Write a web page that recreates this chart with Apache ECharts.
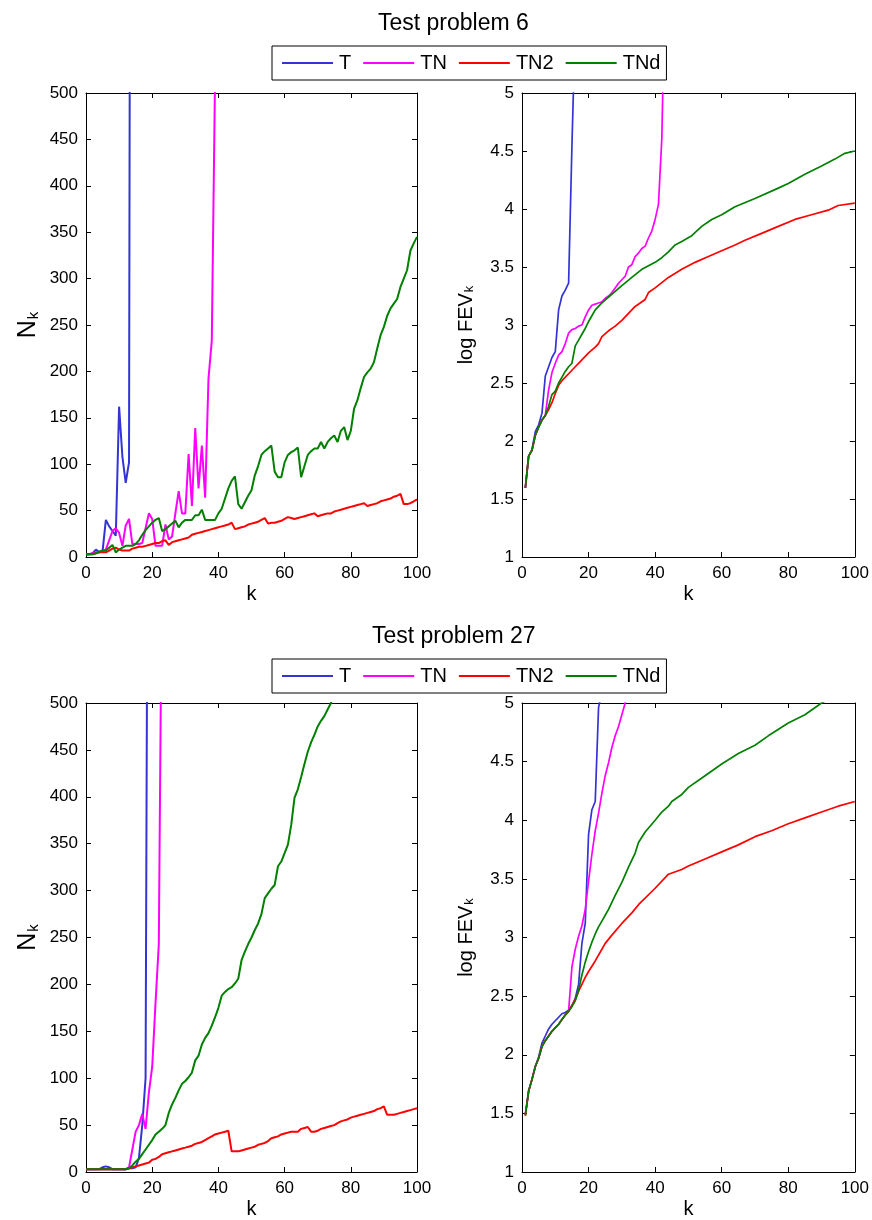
<!DOCTYPE html>
<html>
<head>
<meta charset="utf-8">
<script src="https://cdn.jsdelivr.net/npm/echarts@6/dist/echarts.min.js"></script>
<style>
html,body{margin:0;padding:0;background:#fff;}
#chart{width:872px;height:1220px;}
</style>
</head>
<body>
<div id="chart"></div>
<script>
// ---------- data ----------
const seriesNames = ['T', 'TN', 'TN2', 'TNd'];
const xTicks = [0, 20, 40, 60, 80, 100];

// Test problem 6, N_k (k starts at 0)
const p6N_T   = [3,3,4,8,5,6,40,33,28,23,162,108,80,102,2100];
const p6N_TN  = [3,3,4,5,5,6,8,18,28,31,26,12,34,41,14,14,14,15,31,47,41,12,12,12,35,19,22,47,71,47,47,111,55,139,74,120,64,192,233,520,2000];
const p6N_TN2 = [3,3,3,4,5,5,5,7,9,10, 8,7,7,7,9,10,11,11,12,13, 14,15,15,17,18,13,16,17,18,19, 20,21,24,25,26,27,28,29,30,31,
                 32,33,34,35,37,30,31,32,33,35, 36,37,38,40,42,36,37,37,38,39, 41,43,42,41,42,43,44,45,46,47, 44,45,46,47,47,49,50,51,52,53,
                 54,55,56,57,58,55,56,57,58,60, 61,62,63,65,66,68,57,57,58,60, 62];
const p6N_TNd = [3,3,3,4,6,7,7,10,13,5, 8,10,12,12,12,14,18,24,29,33, 37,40,42,28,30,33,36,39,32,37, 40,40,40,45,45,51,40,40,40,40,
                 47,52,63,74,82,87,57,52,59,66, 72,88,98,110,114,117,120,92,86,86, 102,110,113,115,118,86,98,110,114,117,
                 117,124,117,124,128,131,124,136,140,126, 136,160,169,182,194,199,203,210,225,239, 248,260,268,273,278,291,300,309,330,338, 345];

// Test problem 6, log FEV_k (k starts at 1)
const p6F_T  = [1.595,1.87,1.925,2.08,2.14,2.24,2.56,2.64,2.72,2.77,3.13,3.25,3.30,3.36,4.54,5.6];
const p6F_TN = [1.595,1.87,1.92,2.05,2.12,2.18,2.22,2.44,2.59,2.67, 2.74,2.77,2.84,2.93,2.96,2.97,2.99,3.0,3.07,3.13,
                3.17,3.18,3.19,3.20,3.23,3.25,3.28,3.32,3.36,3.39, 3.42,3.50,3.52,3.59,3.62,3.66,3.68,3.75,3.81,3.91, 4.04,4.6,6.0];
const p6F_TN2 = [[1,1.595],[2,1.87],[3,1.92],[4,2.05],[5,2.12],[6,2.18],[7,2.22],[8,2.27],[9,2.33],[10,2.41],[11,2.48],[12,2.52],[14,2.58],[16,2.64],[18,2.70],[20,2.76],[22,2.81],[23,2.84],[24,2.90],[26,2.95],[28,2.99],[30,3.04],[32,3.10],[34,3.16],[37,3.22],[38,3.28],[40,3.32],[44,3.41],[48,3.48],[52,3.54],[56,3.59],[60,3.64],[64,3.69],[67,3.73],[72,3.79],[77,3.85],[82,3.91],[87,3.95],[92,3.99],[95,4.03],[100,4.05]];
const p6F_TNd = [[1,1.595],[2,1.87],[3,1.92],[4,2.05],[5,2.12],[6,2.18],[7,2.22],[8,2.30],[9,2.40],[10,2.43],[11,2.50],[12,2.55],[13,2.60],[14,2.64],[15,2.67],[16,2.82],[17,2.87],[18,2.92],[19,2.97],[20,3.03],[21,3.08],[22,3.13],[23,3.16],[24,3.19],[26,3.24],[28,3.29],[30,3.34],[33,3.41],[36,3.48],[40,3.54],[42,3.58],[44,3.63],[46,3.69],[48,3.72],[51,3.77],[54,3.85],[57,3.91],[60,3.95],[64,4.02],[70,4.09],[77,4.18],[80,4.22],[85,4.30],[90,4.37],[94,4.43],[97,4.48],[100,4.50]];

// Test problem 27, N_k (k starts at 0)
const p27N_T   = [3,3,3,3,3,5,6,5,3,3,3,3,3,4,4,5,15,50,100,1100];
const p27N_TN  = [3,3,3,3,3,3,3,3,3,3,3,3,3,5,24,43,50,62,46,85,112,180,243,680];
const p27N_TN2 = [3,3,3,3,3,3,3,3,3,3, 3,3,3,4,5,6,7,8,9,10, 13,14,16,19,20,21,22,23,24,25, 26,27,28,30,31,32,34,36,38,40,
                  41,42,43,44,22,22,22,23,24,25, 26,27,29,30,31,33,36,37,38,40, 41,42,43,43,43,46,47,48,43,43,
                  44,46,47,48,49,50,52,54,55,56, 58,59,60,61,62,63,64,65,67,68, 70,61,61,61,62,63,64,65,66,67, 68];
const p27N_TNd = [3,3,3,3,3,3,3,3,3,3, 3,3,3,4,7,11,14,19,24,29, 34,40,43,46,50,63,72,79,87,94, 97,101,106,119,124,136,143,148,156,165,
                  175,188,192,195,197,201,206,226,235,243, 250,258,265,275,292,297,302,306,326,331, 340,349,370,399,408,421,435,448,458,466,
                  475,481,486,493,500,510];

// Test problem 27, log FEV_k
const p27F_T  = [[1,1.49],[2,1.69],[3,1.79],[4,1.90],[5,1.98],[6,2.10],[7,2.16],[8,2.22],[9,2.26],[10,2.29],[11,2.32],[12,2.35],[13,2.36],[14,2.38],[15,2.42],[16,2.48],[17,2.60],[18,2.95],[19,3.12],[20,3.88],[21,4.09],[22,4.16],[23,4.96],[24,5.1]];
const p27F_TN = [[1,1.49],[2,1.69],[3,1.79],[4,1.90],[5,1.97],[6,2.07],[7,2.12],[8,2.16],[9,2.20],[10,2.23],[11,2.26],[12,2.30],[13,2.34],[14,2.37],[15,2.75],[16,2.90],[17,3.01],[18,3.10],[19,3.24],[20,3.48],[21,3.71],[22,3.91],[23,4.06],[24,4.23],[25,4.38],[26,4.49],[27,4.62],[28,4.72],[29,4.80],[30,4.90],[31,5.0],[32,5.1]];
const p27F_TN2 = [[1,1.48],[2,1.69],[3,1.79],[4,1.90],[5,1.97],[6,2.07],[7,2.12],[8,2.16],[9,2.20],[10,2.23],[11,2.26],[12,2.30],[13,2.34],[14,2.37],[15,2.42],[16,2.47],[17,2.54],[18,2.60],[19,2.66],[20,2.71],[22,2.80],[24,2.90],[25,2.95],[27,3.02],[30,3.12],[33,3.21],[35,3.28],[40,3.42],[44,3.54],[48,3.58],[50,3.61],[55,3.67],[60,3.73],[65,3.79],[70,3.86],[75,3.91],[80,3.97],[85,4.02],[90,4.07],[95,4.12],[100,4.16]];
const p27F_TNd = [[1,1.48],[2,1.69],[3,1.79],[4,1.90],[5,1.97],[6,2.07],[7,2.12],[8,2.16],[9,2.20],[10,2.23],[11,2.26],[12,2.30],[13,2.34],[14,2.37],[15,2.41],[16,2.46],[17,2.55],[18,2.68],[19,2.79],[20,2.88],[21,2.96],[22,3.03],[23,3.09],[24,3.14],[25,3.19],[26,3.24],[28,3.36],[30,3.47],[32,3.60],[34,3.72],[35,3.81],[37,3.90],[40,4.00],[42,4.07],[44,4.12],[45,4.16],[48,4.22],[50,4.28],[55,4.38],[60,4.48],[65,4.57],[70,4.64],[74,4.72],[80,4.83],[85,4.90],[90,5.00],[92,5.03]];

// ---------- helpers ----------
const colors = {T: '#3333d6', TN: '#ff00ff', TN2: '#ff0000', TNd: '#008000'};
const FONT = '"Liberation Sans", Arial, Helvetica, sans-serif';
function fromIndex(arr, start) { return arr.map((v, i) => [i + start, v]); }

const grids = [
  {left: 86, top: 93, width: 331, height: 464},
  {left: 522, top: 93, width: 333, height: 464},
  {left: 86, top: 703, width: 331, height: 469},
  {left: 522, top: 703, width: 333, height: 469}
];

const xAxes = [], yAxes = [];
const axisLineStyle = {show: true, onZero: false, lineStyle: {color: '#000', width: 1}};
const tickStyle = {show: true, inside: true, length: 5, lineStyle: {color: '#000', width: 1}};
const labelStyle = {color: '#000', fontSize: 17, fontFamily: FONT, margin: 8};

grids.forEach((g, gi) => {
  const isN = (gi % 2 === 0);
  // bottom x
  xAxes.push({type: 'value', gridIndex: gi, min: 0, max: 100, interval: 20, position: 'bottom',
    axisLine: axisLineStyle, axisTick: tickStyle, axisLabel: labelStyle, splitLine: {show: false},
    name: 'k', nameLocation: 'middle', nameGap: 27,
    nameTextStyle: {fontSize: 20, color: '#000', fontFamily: FONT}});
  // top x (mirror)
  xAxes.push({type: 'value', gridIndex: gi, min: 0, max: 100, interval: 20, position: 'top',
    axisLine: axisLineStyle, axisTick: tickStyle, axisLabel: {show: false}, splitLine: {show: false}});
  // left y
  yAxes.push({type: 'value', gridIndex: gi,
    min: isN ? 0 : 1, max: isN ? 500 : 5, interval: isN ? 50 : 0.5, position: 'left',
    axisLine: axisLineStyle, axisTick: tickStyle, axisLabel: labelStyle, splitLine: {show: false},
    name: isN ? 'N{s|k}' : 'log FEV{s|k}', nameLocation: 'middle', nameRotate: 90,
    nameGap: isN ? 45 : 46,
    nameTextStyle: {fontSize: isN ? 25 : 20, color: '#000', fontFamily: FONT,
      rich: {s: {fontSize: isN ? 15 : 13, color: '#000', fontFamily: FONT, verticalAlign: 'bottom', padding: [0, 0, 0, 1]}}}});
  // right y (mirror)
  yAxes.push({type: 'value', gridIndex: gi,
    min: isN ? 0 : 1, max: isN ? 500 : 5, interval: isN ? 50 : 0.5, position: 'right',
    axisLine: axisLineStyle, axisTick: tickStyle, axisLabel: {show: false}, splitLine: {show: false}});
});

function mk(name, data, gi, width) {
  return {type: 'line', name: name, data: data, xAxisIndex: gi * 2, yAxisIndex: gi * 2,
    symbol: 'none', showSymbol: false, clip: true, color: colors[name],
    lineStyle: {color: colors[name], width: width}, z: 3};
}

const series = [
  mk('T',   fromIndex(p6N_T, 0), 0, 2),
  mk('TN',  fromIndex(p6N_TN, 0), 0, 2),
  mk('TN2', fromIndex(p6N_TN2, 0), 0, 2),
  mk('TNd', fromIndex(p6N_TNd, 0), 0, 2),
  mk('T',   fromIndex(p6F_T, 1), 1, 1.7),
  mk('TN',  fromIndex(p6F_TN, 1), 1, 1.7),
  mk('TN2', p6F_TN2, 1, 1.7),
  mk('TNd', p6F_TNd, 1, 1.7),
  mk('T',   fromIndex(p27N_T, 0), 2, 2),
  mk('TN',  fromIndex(p27N_TN, 0), 2, 2),
  mk('TN2', fromIndex(p27N_TN2, 0), 2, 2),
  mk('TNd', fromIndex(p27N_TNd, 0), 2, 2),
  mk('T',   p27F_T, 3, 1.7),
  mk('TN',  p27F_TN, 3, 1.7),
  mk('TN2', p27F_TN2, 3, 1.7),
  mk('TNd', p27F_TNd, 3, 1.7)
];

function legendAt(top) {
  return {data: seriesNames, left: 272, top: top, orient: 'horizontal',
    icon: 'rect', itemWidth: 51, itemHeight: 2, itemGap: 12,
    padding: [7, 6, 7, 10], borderColor: '#000', borderWidth: 1, backgroundColor: '#fff',
    selectedMode: false,
    textStyle: {fontSize: 20, color: '#000', fontFamily: FONT, padding: [0, 0, 0, 1]}};
}

const option = {
  backgroundColor: '#fff',
  animation: false,
  title: [
    {text: 'Test problem 6', left: 378, top: 12, padding: 0,
      textStyle: {fontSize: 23, fontWeight: 'normal', color: '#000', fontFamily: FONT}},
    {text: 'Test problem 27', left: 372, top: 625, padding: 0,
      textStyle: {fontSize: 23, fontWeight: 'normal', color: '#000', fontFamily: FONT}}
  ],
  legend: [legendAt(46), legendAt(659)],
  grid: grids,
  xAxis: xAxes,
  yAxis: yAxes,
  series: series
};

const chart = echarts.init(document.getElementById('chart'), null, {renderer: 'canvas'});
chart.setOption(option);
</script>
</body>
</html>
